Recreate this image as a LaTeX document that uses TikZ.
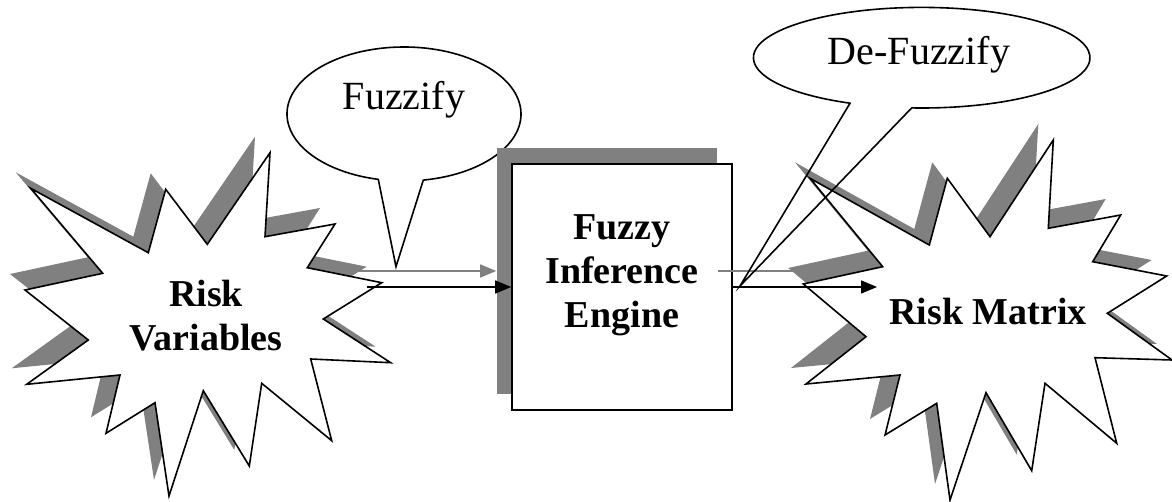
\documentclass[tikz,border=0pt]{standalone}
\usepackage{fontspec}
\setmainfont{Liberation Serif}
\usetikzlibrary{arrows.meta,calc,shadows}
\definecolor{shadowgray}{RGB}{128,128,128}

\tikzset{
  outline/.style={draw=black, line width=1.6pt, line join=miter},
  starshadow/.style={fill=shadowgray, shift={(-15,-16)}},
  starbody/.style={outline, fill=white},
  box/.style={outline, fill=white, minimum width=220pt, minimum height=246pt,
    inner sep=0pt,
    drop shadow={shadow xshift=-15pt, shadow yshift=16pt, fill=shadowgray, opacity=1}},
  flow/.style={draw=black, line width=1.5pt, -{Triangle[length=16pt,width=13pt]}},
  flowshadow/.style={draw=shadowgray, line width=1.5pt,
    -{Triangle[length=16pt,width=13pt,fill=shadowgray]}},
  calltext/.style={font=\fontsize{40}{44}\selectfont, inner sep=0pt},
  labeltext/.style={font=\fontsize{38}{44}\selectfont\bfseries, align=center, inner sep=0pt},
  leftstarpath/.style={insert path={
    (30.7,188.3) -- (148.3,252.7) -- (165.7,189.3) -- (207.3,244.3) --
    (270,152.7) -- (265,236.7) -- (335,224) -- (307.3,267.7) --
    (381.7,282.7) -- (323.3,319) -- (390.7,362.7) -- (310.7,359) --
    (331.7,440.7) -- (261.7,383.3) -- (249.3,466) -- (203.3,390.7) --
    (169,496) -- (155,402.7) -- (106,433.3) -- (120,375) --
    (26.7,384.3) -- (88.3,340) -- (25,290) -- (102.7,273.3) -- cycle}},
  rightstarpath/.style={insert path={
    (810,178.3) -- (929.3,245) -- (947.3,178.3) -- (990,236.7) --
    (1053.3,140) -- (1048.3,228.3) -- (1120.7,215) -- (1092.7,261.7) --
    (1166.7,276) -- (1107.3,313.3) -- (1172,360) -- (1095,357.7) --
    (1116.7,443.3) -- (1045,383.3) -- (1031.7,470.7) -- (986,392.7) --
    (950,500) -- (936.7,403.3) -- (885,435) -- (900,375) --
    (806,384) -- (866,336.7) -- (803.3,284) -- (882.7,266.7) -- cycle}},
}

\begin{document}
\begin{tikzpicture}[x=1pt, y=-1pt]
\useasboundingbox (0,0) rectangle (1172,502);

% callout of the fuzzification step
\coordinate (fzc) at (404,114);
\coordinate (fztip) at (396,266.7);
\draw[outline] ($(fzc)+(80.5:117 and 67)$)
  arc[start angle=80.5, end angle=-257.3, x radius=117, y radius=67]
  -- (fztip) -- cycle;

% inference engine box with its shadow
\node[box] (engine) at (622,287) {};
\node[labeltext] (enginetext) at (622,275) {Fuzzy\\Inference\\Engine};

% flow end points on the two bursts
\coordinate (rvout) at (367,287);
\coordinate (rmin) at (877,287);

% shadows of the flow arrows
\draw[flowshadow] ([shift={(-15,-16)}]rvout) -- ([shift={(-15,-16)}]engine.west);
\draw[flowshadow] ([shift={(-15,-16)}]engine.east) -- ([shift={(-15,-16)}]rmin);

% burst shapes
\fill[starshadow, leftstarpath];
\path[starbody, leftstarpath];
\fill[starshadow, rightstarpath];
\path[starbody, rightstarpath];

\node[labeltext] (rv) at (206,316) {Risk\\Variables};
\node[labeltext, anchor=base] (rm) at (988,325) {Risk Matrix};

% flow arrows
\draw[flow] (rvout) -- (engine.west);
\draw[flow] (engine.east) -- (rmin);

% callout of the defuzzification step
\coordinate (dfc) at (921.7,57.7);
\coordinate (dftip) at (740,286);
\draw[outline] ($(dfc)+(93.4:168.3 and 50.3)$)
  arc[start angle=93.4, end angle=-244.8, x radius=168.3, y radius=50.3]
  -- (dftip) -- cycle;

\node[calltext, anchor=base] (fztext) at (404,110) {Fuzzify};
\node[calltext, anchor=base] (dftext) at (919,65) {De-Fuzzify};
\end{tikzpicture}
\end{document}
